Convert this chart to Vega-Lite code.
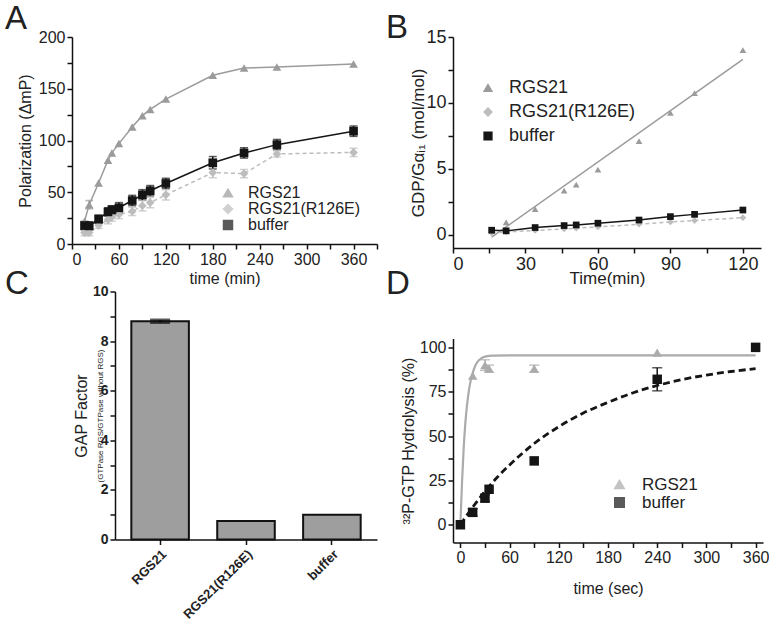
{
 "$schema": "https://vega.github.io/schema/vega-lite/v6.json",
 "padding": {"left": 5, "top": 3, "right": 0, "bottom": 0},
 "datasets": {
  "A": [
   {"s":"RGS21","t":16,"y":22,"e":0},{"s":"RGS21","t":22,"y":38,"e":4},{"s":"RGS21","t":34,"y":59,"e":0},{"s":"RGS21","t":46,"y":81,"e":0},{"s":"RGS21","t":51,"y":88,"e":0},{"s":"RGS21","t":60,"y":97,"e":0},{"s":"RGS21","t":77,"y":113,"e":0},{"s":"RGS21","t":90,"y":124,"e":0},{"s":"RGS21","t":100,"y":130,"e":0},{"s":"RGS21","t":120,"y":140,"e":0},{"s":"RGS21","t":180,"y":163,"e":0},{"s":"RGS21","t":220,"y":170,"e":0},{"s":"RGS21","t":262,"y":171,"e":0},{"s":"RGS21","t":360,"y":174,"e":0},
   {"s":"RGS21(R126E)","t":16,"y":11,"e":3},{"s":"RGS21(R126E)","t":22,"y":11,"e":3},{"s":"RGS21(R126E)","t":34,"y":18,"e":3},{"s":"RGS21(R126E)","t":46,"y":23.5,"e":4},{"s":"RGS21(R126E)","t":51,"y":26,"e":4},{"s":"RGS21(R126E)","t":60,"y":28.5,"e":4},{"s":"RGS21(R126E)","t":77,"y":31.5,"e":4},{"s":"RGS21(R126E)","t":90,"y":37,"e":5},{"s":"RGS21(R126E)","t":100,"y":40,"e":5},{"s":"RGS21(R126E)","t":120,"y":47.5,"e":5},{"s":"RGS21(R126E)","t":180,"y":69,"e":5},{"s":"RGS21(R126E)","t":220,"y":68,"e":4},{"s":"RGS21(R126E)","t":262,"y":87,"e":3},{"s":"RGS21(R126E)","t":360,"y":88.5,"e":4},
   {"s":"buffer","t":16,"y":17.8,"e":4},{"s":"buffer","t":22,"y":17.5,"e":4},{"s":"buffer","t":34,"y":24,"e":4},{"s":"buffer","t":46,"y":31,"e":4},{"s":"buffer","t":51,"y":33,"e":4},{"s":"buffer","t":60,"y":35,"e":5},{"s":"buffer","t":77,"y":42,"e":5},{"s":"buffer","t":90,"y":47.5,"e":5},{"s":"buffer","t":100,"y":51.5,"e":5},{"s":"buffer","t":120,"y":58.5,"e":5},{"s":"buffer","t":180,"y":78.5,"e":6},{"s":"buffer","t":220,"y":88,"e":5},{"s":"buffer","t":262,"y":96,"e":5},{"s":"buffer","t":360,"y":109,"e":5}
  ],
  "B": [
   {"s":"RGS21","t":22,"y":0.95},{"s":"RGS21","t":34,"y":1.95},{"s":"RGS21","t":46,"y":3.35},{"s":"RGS21","t":51,"y":3.8},{"s":"RGS21","t":60,"y":4.95},{"s":"RGS21","t":77,"y":7.1},{"s":"RGS21","t":90,"y":9.25},{"s":"RGS21","t":100,"y":10.75},{"s":"RGS21","t":120,"y":14.0},
   {"s":"RGS21(R126E)","t":16,"y":0.15},{"s":"RGS21(R126E)","t":22,"y":0.22},{"s":"RGS21(R126E)","t":34,"y":0.33},{"s":"RGS21(R126E)","t":46,"y":0.45},{"s":"RGS21(R126E)","t":51,"y":0.5},{"s":"RGS21(R126E)","t":60,"y":0.6},{"s":"RGS21(R126E)","t":77,"y":0.8},{"s":"RGS21(R126E)","t":90,"y":0.97},{"s":"RGS21(R126E)","t":100,"y":1.08},{"s":"RGS21(R126E)","t":120,"y":1.3},
   {"s":"buffer","t":16,"y":0.35},{"s":"buffer","t":22,"y":0.3},{"s":"buffer","t":34,"y":0.55},{"s":"buffer","t":46,"y":0.7},{"s":"buffer","t":51,"y":0.75},{"s":"buffer","t":60,"y":0.88},{"s":"buffer","t":77,"y":1.12},{"s":"buffer","t":90,"y":1.38},{"s":"buffer","t":100,"y":1.55},{"s":"buffer","t":120,"y":1.88}
  ],
  "Bfit": [{"s":"RGS21","t":16,"y":-0.18},{"s":"RGS21","t":120,"y":13.3}],
  "C": [{"g":"RGS21","v":8.8,"e":0.05},{"g":"RGS21(R126E)","v":0.75,"e":0},{"g":"buffer","v":1.0,"e":0}],
  "D": [
   {"s":"RGS21","t":0,"y":0,"e":0},{"s":"RGS21","t":15,"y":84,"e":0},{"s":"RGS21","t":30,"y":90,"e":3},{"s":"RGS21","t":35,"y":88,"e":2},{"s":"RGS21","t":90,"y":88,"e":2},{"s":"RGS21","t":240,"y":97,"e":0},{"s":"RGS21","t":360,"y":100,"e":0},
   {"s":"buffer","t":0,"y":0,"e":0},{"s":"buffer","t":15,"y":7,"e":2},{"s":"buffer","t":30,"y":15,"e":2},{"s":"buffer","t":35,"y":20,"e":0},{"s":"buffer","t":90,"y":36,"e":0},{"s":"buffer","t":240,"y":82,"e":6.5},{"s":"buffer","t":360,"y":100,"e":0}
  ],
  "Dfit": [
   {"s":"RGS21","t":0,"y":0},{"s":"RGS21","t":2,"y":24},{"s":"RGS21","t":4,"y":43},{"s":"RGS21","t":6,"y":57},{"s":"RGS21","t":8,"y":67},{"s":"RGS21","t":10,"y":74.5},{"s":"RGS21","t":12,"y":80},{"s":"RGS21","t":15,"y":85.5},{"s":"RGS21","t":18,"y":89.5},{"s":"RGS21","t":22,"y":92.5},{"s":"RGS21","t":26,"y":94},{"s":"RGS21","t":30,"y":94.8},{"s":"RGS21","t":40,"y":95.4},{"s":"RGS21","t":60,"y":95.5},{"s":"RGS21","t":360,"y":95.5},
   {"s":"buffer","t":0,"y":0},{"s":"buffer","t":15,"y":9.9},{"s":"buffer","t":30,"y":18.8},{"s":"buffer","t":45,"y":26.8},{"s":"buffer","t":60,"y":33.7},{"s":"buffer","t":90,"y":45.8},{"s":"buffer","t":120,"y":55.3},{"s":"buffer","t":150,"y":63},{"s":"buffer","t":180,"y":69},{"s":"buffer","t":210,"y":74.3},{"s":"buffer","t":240,"y":78.5},{"s":"buffer","t":270,"y":81.8},{"s":"buffer","t":300,"y":84.4},{"s":"buffer","t":330,"y":86.4},{"s":"buffer","t":360,"y":88}
  ]
 },
 "concat": [
  {
   "width": 262, "height": 207,
   "title": {"text": "A", "dx": -110, "dy": 6, "offset": -1},
   "data": {"name": "A"},
   "encoding": {
    "x": {"field": "t", "type": "quantitative", "scale": {"domain": [0, 390], "nice": false, "zero": false, "range": [-43, 262]},
          "axis": {"title": "time (min)", "titlePadding": 3, "values": [0,30,60,90,120,150,180,210,240,270,300,330,360,390], "labelExpr": "datum.value % 60 == 0 ? datum.label : ''"}},
    "y": {"field": "y", "type": "quantitative", "scale": {"domain": [0, 200], "nice": false},
          "axis": {"title": "Polarization (ΔmP)", "offset": 43, "titlePadding": 5, "values": [0,25,50,75,100,125,150,175,200], "labelExpr": "datum.value % 50 == 0 ? datum.label : ''"}},
    "color": {"field": "s", "type": "nominal", "scale": {"domain": ["RGS21","RGS21(R126E)","buffer"], "range": ["#9b9b9b","#bdbdbd","#151515"]},
       "legend": {"title": null, "orient": "none", "legendX": 105, "legendY": 148, "labelFontSize": 16, "symbolSize": 80, "labelOffset": 12, "rowPadding": -3}}
   },
   "layer": [
    {"transform": [{"filter": "datum.e > 0"}], "mark": {"type": "errorbar", "ticks": {"size": 8}, "thickness": 1.5},
     "encoding": {"yError": {"field": "e"}}},
    {"transform": [{"filter": "datum.s != 'RGS21(R126E)'"}], "mark": {"type": "line", "strokeWidth": 1.5}},
    {"transform": [{"filter": "datum.s == 'RGS21(R126E)'"}], "mark": {"type": "line", "strokeWidth": 1.5, "strokeDash": [4, 3]}},
    {"mark": {"type": "point", "filled": true, "size": 75, "opacity": 1},
     "encoding": {
      "shape": {"field": "s", "type": "nominal", "scale": {"domain": ["RGS21","RGS21(R126E)","buffer"], "range": ["triangle-up","diamond","square"]}}}}
   ]
  },
  {
   "width": 308, "height": 211,
   "title": {"text": "B", "dx": -67, "dy": 11, "offset": -6},
   "encoding": {
    "x": {"field": "t", "type": "quantitative", "scale": {"domain": [0, 127.5], "nice": false, "zero": false},
          "axis": {"title": "Time(min)", "titlePadding": -2.3, "labelFontSize": 18, "titleFontSize": 17, "values": [0,15,30,45,60,75,90,105,120], "labelExpr": "datum.value % 30 == 0 ? datum.label : ''"}},
    "y": {"field": "y", "type": "quantitative", "scale": {"domain": [-1, 15], "nice": false, "zero": false},
          "axis": {"title": "GDP/Gαᵢ₁ (mol/mol)", "titlePadding": -2, "labelFontSize": 18, "titleFontSize": 17, "values": [0,2.5,5,7.5,10,12.5,15], "labelExpr": "datum.value % 5 == 0 ? datum.label : ''"}},
    "color": {"field": "s", "type": "nominal", "scale": {"domain": ["RGS21","RGS21(R126E)","buffer"], "range": ["#9b9b9b","#bdbdbd","#151515"]},
       "legend": {"title": null, "orient": "none", "legendX": 26, "legendY": 42, "labelFontSize": 18, "symbolSize": 60, "labelOffset": 12, "rowPadding": 6}}
   },
   "layer": [
    {"data": {"name": "Bfit"}, "mark": {"type": "line", "strokeWidth": 1.5}},
    {"data": {"name": "B"}, "transform": [{"filter": "datum.s == 'buffer'"}], "mark": {"type": "line", "strokeWidth": 1.5}},
    {"data": {"name": "B"}, "transform": [{"filter": "datum.s == 'RGS21(R126E)'"}], "mark": {"type": "line", "strokeWidth": 1.5, "strokeDash": [4, 3]}},
    {"data": {"name": "B"}, "mark": {"type": "point", "filled": true, "size": 45, "opacity": 1},
     "encoding": {
      "shape": {"field": "s", "type": "nominal", "scale": {"domain": ["RGS21","RGS21(R126E)","buffer"], "range": ["triangle-up","diamond","square"]}}}}
   ]
  },
  {
   "width": 262, "height": 248,
   "title": {"text": "C", "dx": -110, "dy": 2.5, "offset": -14},
   "data": {"name": "C"},
   "encoding": {
    "x": {"field": "g", "type": "nominal", "sort": null, "scale": {"paddingInner": 0.33, "paddingOuter": 0.19},
          "axis": {"title": null, "labelAngle": -45, "labelFontWeight": "bold", "labelFontSize": 13, "labelPadding": 3}}
   },
   "layer": [
    {"mark": {"type": "bar", "fill": "#9e9e9e", "stroke": "#111111", "strokeWidth": 2},
     "encoding": {"y": {"field": "v", "type": "quantitative", "scale": {"domain": [0, 10], "nice": false},
       "axis": {"title": "GAP Factor", "titlePadding": 3, "labelFontWeight": "bold", "labelFontSize": 14, "values": [0,1,2,3,4,5,6,7,8,9,10], "labelExpr": "datum.value % 2 == 0 ? datum.label : ''"}}}},
    {"transform": [{"filter": "datum.e > 0"}], "mark": {"type": "errorbar", "ticks": {"size": 20}, "thickness": 3, "color": "#111111"},
     "encoding": {"y": {"field": "v", "type": "quantitative", "scale": {"domain": [0, 10], "nice": false},
       "axis": {"orient": "left", "title": "(GTPase RGS/GTPase without RGS)", "titleFontSize": 8, "titlePadding": 11, "labels": false, "ticks": false, "domain": false}},
      "yError": {"field": "e"}}}
   ],
   "resolve": {"axis": {"y": "independent"}}
  },
  {
   "width": 310, "height": 204,
   "title": {"text": "D", "dx": -67, "dy": -4.5, "offset": 33},
   "encoding": {
    "x": {"field": "t", "type": "quantitative", "scale": {"domain": [-9, 369], "nice": false, "zero": false},
          "axis": {"title": "time (sec)", "titlePadding": 15, "values": [0,30,60,90,120,150,180,210,240,270,300,330,360], "labelExpr": "datum.value % 60 == 0 ? datum.label : ''"}},
    "y": {"field": "y", "type": "quantitative", "scale": {"domain": [-10, 105], "nice": false, "zero": false},
          "axis": {"title": "³²P-GTP Hydrolysis (%)", "titlePadding": 3, "values": [0,12.5,25,37.5,50,62.5,75,87.5,100], "labelExpr": "datum.value % 25 == 0 ? datum.label : ''"}},
    "color": {"field": "s", "type": "nominal", "scale": {"domain": ["RGS21","buffer"], "range": ["#ababab","#151515"]},
       "legend": {"title": null, "orient": "none", "legendX": 158, "legendY": 137.5, "labelFontSize": 17, "symbolSize": 90, "labelOffset": 14, "rowPadding": 0}}
   },
   "layer": [
    {"data": {"name": "Dfit"}, "transform": [{"filter": "datum.s == 'RGS21'"}], "mark": {"type": "line", "interpolate": "monotone", "strokeWidth": 2.2}},
    {"data": {"name": "Dfit"}, "transform": [{"filter": "datum.s == 'buffer'"}], "mark": {"type": "line", "interpolate": "monotone", "strokeWidth": 2.8, "strokeDash": [7, 4]}},
    {"data": {"name": "D"}, "transform": [{"filter": "datum.e > 0"}], "mark": {"type": "errorbar", "ticks": {"size": 10}, "thickness": 1.5},
     "encoding": {"yError": {"field": "e"}}},
    {"data": {"name": "D"}, "mark": {"type": "point", "filled": true, "size": 90, "opacity": 1},
     "encoding": {
      "shape": {"field": "s", "type": "nominal", "scale": {"domain": ["RGS21","buffer"], "range": ["triangle-up","square"]}}}}
   ]
  }
 ],
 "columns": 2,
 "align": "none",
 "spacing": {"row": -19.5, "column": -34},
 "resolve": {"scale": {"color": "independent", "shape": "independent"}, "legend": {"color": "independent", "shape": "independent"}},
 "config": {
  "font": "Liberation Sans",
  "view": {"stroke": null},
  "axis": {"grid": false, "domainColor": "#111111", "domainWidth": 1.5, "tickColor": "#111111", "tickWidth": 1.5, "tickSize": 5, "labelColor": "#222222", "titleColor": "#222222", "titleFontWeight": "normal", "labelFontSize": 16, "titleFontSize": 16, "labelPadding": 2, "labelFont": "Liberation Sans", "titleFont": "Liberation Sans"},
  "legend": {"labelColor": "#222222", "labelFont": "Liberation Sans", "symbolStrokeWidth": 1.5},
  "title": {"anchor": "start", "frame": "group", "fontSize": 33, "fontWeight": "normal", "color": "#222222", "baseline": "alphabetic", "font": "Liberation Sans"}
 }
}
